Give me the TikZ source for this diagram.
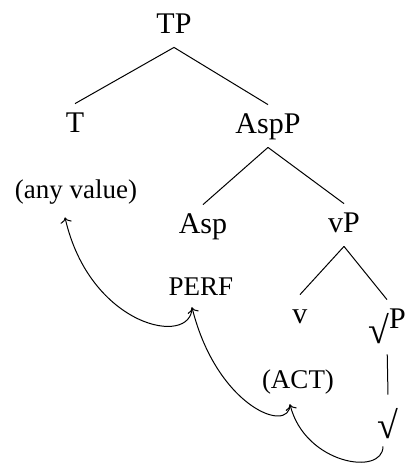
\documentclass[tikz,border=0pt]{standalone}
\usepackage{fontspec}
\setmainfont{Liberation Serif}
\usetikzlibrary{arrows.meta}
\newcommand{\rt}{\raisebox{-7.5pt}{\fontsize{19}{19}\selectfont √}}
\tikzset{
  cat/.style  ={font=\fontsize{15}{18}\selectfont,anchor=base,text height=10pt,text depth=3pt,inner sep=4pt},
  feat/.style ={font=\fontsize{13.5}{16}\selectfont,anchor=base,text depth=3pt,inner sep=3pt},
  br/.style   ={line width=0.5pt},
  mv/.style   ={->,line width=0.5pt},
}

\begin{document}
\begin{tikzpicture}[x=0.5pt,y=0.5pt]
  \useasboundingbox (0,0) rectangle (407,-463);
  % tree
  \node[cat] (tp)    at (174,-33)  {TP};
  \node[cat] (t)     at (75,-132)  {T};
  \node[cat] (aspp)  at (268,-133) {AspP};
  \node[cat] (asp)   at (203,-233) {Asp};
  \node[cat] (vp)    at (344,-232) {vP};
  \node[cat] (v)     at (300,-323) {v};
  \node[cat] (rootp) at (387,-328) {\rt P};
  \node[cat] (root)  at (388,-423) {\rt};
  \draw[br] (tp.south) -- (t.north);
  \draw[br] (tp.south) -- (aspp.north);
  \draw[br] (aspp.south) -- (asp.north);
  \draw[br] (aspp.south) -- (vp.north);
  \draw[br] (vp.south) -- (v.north);
  \draw[br] (vp.south) -- (rootp.north);
  \draw[br,shorten <=6pt] (rootp.south) -- (root.north);
  % features
  \node[feat] (anyval) at (76,-198)  {(any value)};
  \node[feat] (perf)   at (201,-295) {PERF};
  \node[feat] (act)    at (298,-388) {(ACT)};
  % movement
  \draw[mv] ([xshift=-2.5pt,yshift=-4.5pt]root.south) .. controls +(0,-30) and +(15,-60) .. ([xshift=-4pt,yshift=-2pt]act.south);
  \draw[mv] ([xshift=-4pt,yshift=-2pt]act.south) .. controls +(0,-30) and +(25,-100) .. ([xshift=-4.5pt]perf.south);
  \draw[mv] ([xshift=-4.5pt]perf.south) .. controls +(0,-40) and +(25,-110) .. ([xshift=-5.5pt,yshift=-3.5pt]anyval.south);
\end{tikzpicture}
\end{document}
